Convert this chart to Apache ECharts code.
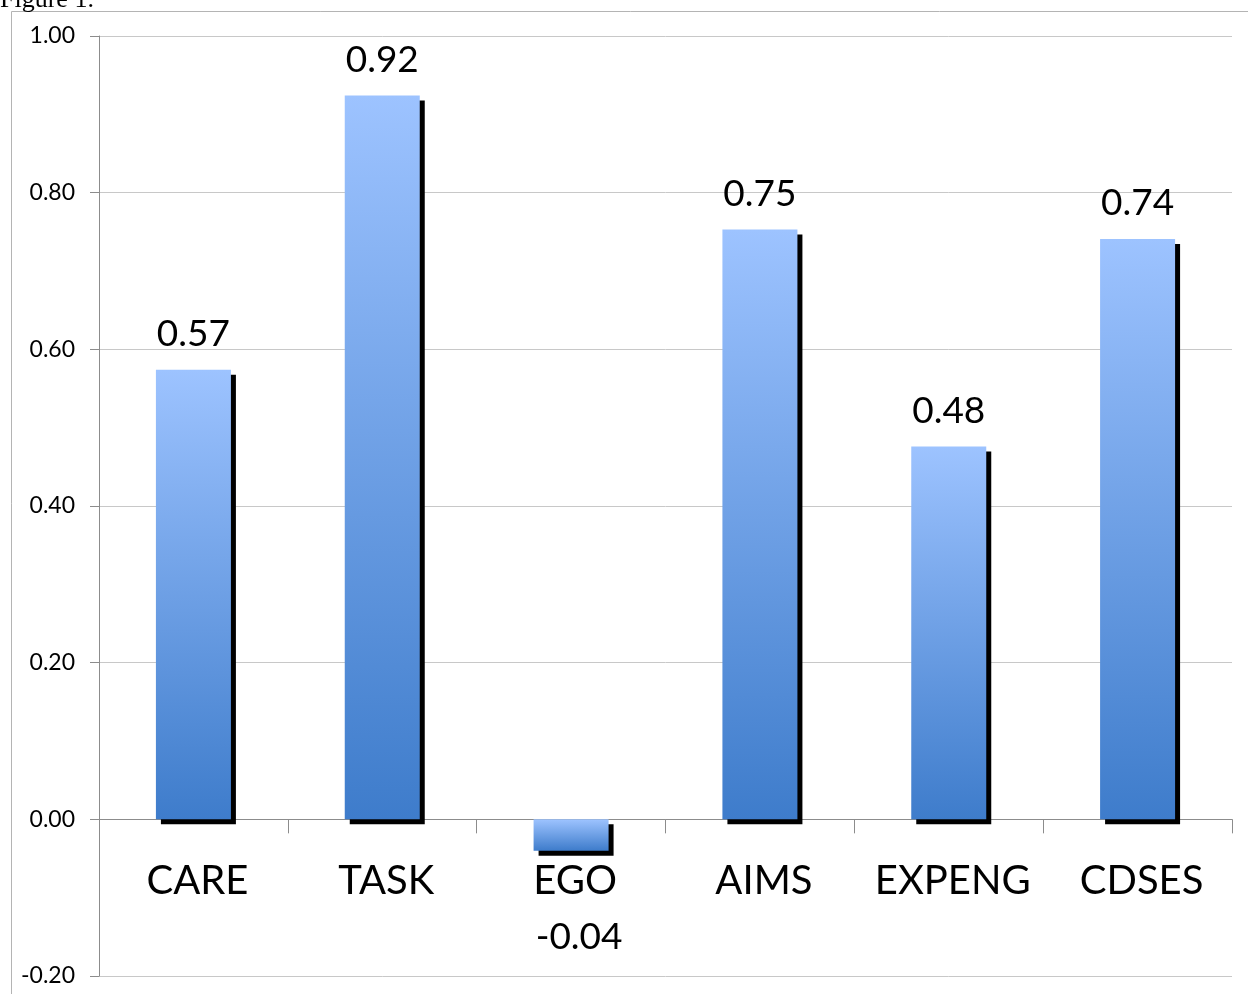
<!DOCTYPE html>
<html>
<head>
<meta charset="utf-8">
<script src="https://cdn.jsdelivr.net/npm/echarts@6/dist/echarts.min.js"></script>
<style>
html,body{margin:0;padding:0;background:#fff;}
#chart{width:1248px;height:994px;}
</style>
</head>
<body>
<div id="chart"></div>
<script>
var categories = ['CARE', 'TASK', 'EGO', 'AIMS', 'EXPENG', 'CDSES'];
var values = [0.574, 0.924, -0.04, 0.753, 0.476, 0.741];
var valueLabels = ['0.57', '0.92', '-0.04', '0.75', '0.48', '0.74'];
var yTicks = [-0.2, 0, 0.2, 0.4, 0.6, 0.8, 1.0];

var font = 'Lato, "Open Sans", sans-serif';
var chart = echarts.init(document.getElementById('chart'), null, {renderer: 'canvas'});

var barData = values.map(function (v, i) {
  var item = {value: v};
  if (v < 0) {
    item.label = {position: 'bottom', distance: 68, offset: [8, 0]};
  }
  return item;
});
var catLabelData = categories.map(function () { return 0; });

chart.setOption({
  backgroundColor: '#fff',
  animation: false,
  graphic: [
    {type: 'rect', shape: {x: 11.5, y: 11.5, width: 1260, height: 1000}, style: {fill: 'none', stroke: '#b4b4b4', lineWidth: 1}, silent: true, z: -10},
    {type: 'text', x: 0, y: 13, style: {text: 'Figure 1.', font: '26px "Liberation Serif", serif', fill: '#000', verticalAlign: 'bottom'}}
  ],
  grid: {left: 99, right: 16, top: 36, bottom: 18, containLabel: false, outerBoundsMode: 'none'},
  xAxis: {
    type: 'category',
    data: categories,
    axisLine: {onZero: true, lineStyle: {color: '#8c8c8c', width: 1}},
    axisTick: {show: true, length: 14, alignWithLabel: false, lineStyle: {color: '#8c8c8c'}},
    axisLabel: {show: false}
  },
  yAxis: {
    type: 'value',
    min: yTicks[0],
    max: yTicks[yTicks.length - 1],
    interval: 0.2,
    axisLine: {show: true, lineStyle: {color: '#8c8c8c', width: 1}},
    axisTick: {show: true, length: 9, lineStyle: {color: '#8c8c8c'}},
    axisLabel: {fontSize: 23, color: '#000', fontFamily: font, margin: 24,
      formatter: function (v) { return v.toFixed(2); }},
    splitLine: {show: true, lineStyle: {color: '#c8c8c8', width: 1}}
  },
  series: [{
    type: 'bar',
    data: barData,
    barWidth: 75,
    z: 2,
    itemStyle: {
      color: new echarts.graphic.LinearGradient(0, 0, 0, 1, [
        {offset: 0, color: '#9dc3ff'},
        {offset: 1, color: '#3e7ccb'}
      ]),
      shadowColor: '#000',
      shadowOffsetX: 5,
      shadowOffsetY: 5,
      shadowBlur: 0
    },
    label: {
      show: true,
      position: 'top',
      distance: 17,
      fontSize: 37,
      color: '#000',
      fontFamily: font,
      formatter: function (p) { return valueLabels[p.dataIndex]; }
    }
  }, {
    type: 'bar',
    data: catLabelData,
    barWidth: 75,
    barGap: '-100%',
    silent: true,
    z: 1,
    itemStyle: {color: 'transparent'},
    label: {
      show: true,
      position: 'bottom',
      distance: 42,
      offset: [4, 0],
      fontSize: 40,
      color: '#000',
      fontFamily: font,
      formatter: function (p) { return categories[p.dataIndex]; }
    }
  }]
});
</script>
</body>
</html>
